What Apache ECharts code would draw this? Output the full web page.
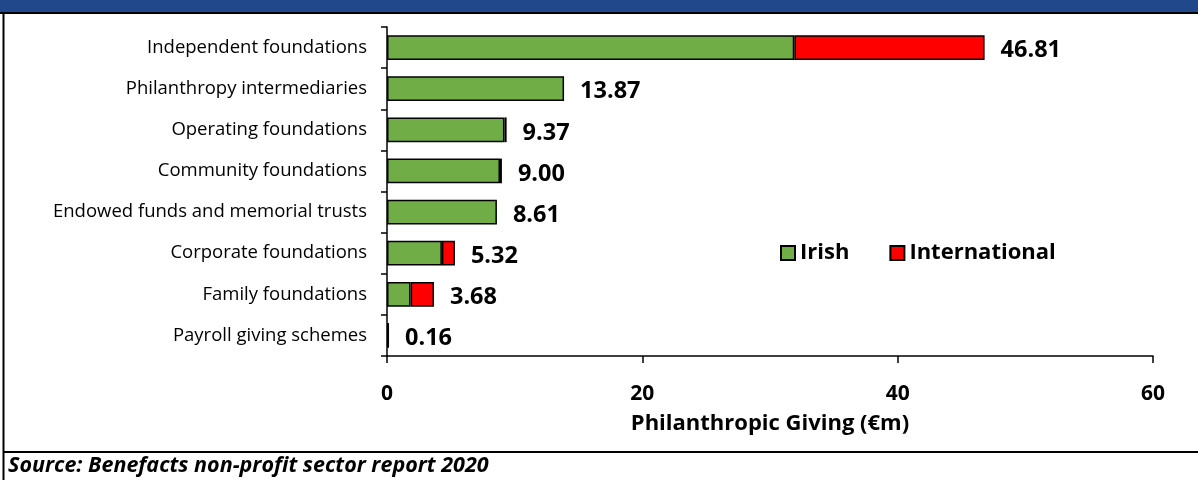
<!DOCTYPE html>
<html>
<head>
<meta charset="utf-8">
<script src="https://cdn.jsdelivr.net/npm/echarts@6/dist/echarts.min.js"></script>
<style>
  html, body { margin: 0; padding: 0; background: #fff; }
  #chart { width: 1198px; height: 480px; }
</style>
</head>
<body>
<div id="chart"></div>
<script>
// Philanthropic giving by foundation type, €m (Irish vs international recipients)
const categories = [
  'Independent foundations',
  'Philanthropy intermediaries',
  'Operating foundations',
  'Community foundations',
  'Endowed funds and memorial trusts',
  'Corporate foundations',
  'Family foundations',
  'Payroll giving schemes'
];
const irish         = [31.90, 13.87, 9.20, 8.85, 8.61, 4.30, 1.85, 0.16];
const international = [14.91, 0,     0.17, 0.15, 0,    1.02, 1.83, 0];
const xTicks = [0, 20, 40, 60];
const xTitle = 'Philanthropic Giving (€m)';
const sourceNote = 'Source: Benefacts non-profit sector report 2020';

const totals = irish.map((v, i) => +(v + international[i]).toFixed(2));

const FONT = 'Open Sans';
const chart = echarts.init(document.getElementById('chart'), null, { renderer: 'canvas' });

chart.setOption({
  animation: false,
  backgroundColor: '#ffffff',
  textStyle: { fontFamily: FONT },
  grid: { left: 387, right: 45, top: 27, bottom: 124, containLabel: false },
  legend: {
    data: ['Irish', 'International'],
    left: 775, top: 237,
    itemWidth: 14, itemHeight: 14, itemGap: 40,
    icon: 'rect',
    textStyle: { fontFamily: FONT, fontWeight: 'bold', fontSize: 22, color: '#000' }
  },
  xAxis: {
    type: 'value',
    min: xTicks[0], max: xTicks[xTicks.length - 1], interval: 20,
    axisLine: { show: true, lineStyle: { color: '#000', width: 1.5 } },
    axisTick: { show: true, inside: false, length: 7, lineStyle: { color: '#000', width: 1.5 } },
    splitLine: { show: false },
    axisLabel: { color: '#000', fontFamily: FONT, fontWeight: 'bold', fontSize: 21, margin: 28 },
    name: xTitle, nameLocation: 'middle', nameGap: 57,
    nameTextStyle: { color: '#000', fontFamily: FONT, fontWeight: 'bold', fontSize: 22 }
  },
  yAxis: {
    type: 'category', data: categories, inverse: true,
    axisLine: { show: true, lineStyle: { color: '#000', width: 1.5 } },
    axisTick: { show: true, length: 6, lineStyle: { color: '#000', width: 1.5 } },
    axisLabel: { color: '#000', fontFamily: FONT, fontSize: 18.5, margin: 20, padding: [3, 0, 0, 0] }
  },
  series: [
    {
      name: 'Irish', type: 'bar', stack: 'giving', barCategoryGap: '40%',
      itemStyle: { color: '#70AD47', borderColor: '#000', borderWidth: 1.5 },
      data: irish
    },
    {
      name: 'International', type: 'bar', stack: 'giving', barCategoryGap: '40%',
      itemStyle: { color: '#FF0000', borderColor: '#000', borderWidth: 1.5 },
      data: international.map(v => v === 0 ? { value: 0, itemStyle: { borderWidth: 0 } } : v),
      label: {
        show: true, position: 'right', distance: 16, offset: [0, 3],
        color: '#000', fontFamily: FONT, fontWeight: 'bold', fontSize: 23.5,
        formatter: p => totals[p.dataIndex].toFixed(2)
      }
    }
  ],
  graphic: [
    { type: 'rect', shape: { x: 0, y: 0, width: 1198, height: 12 }, style: { fill: '#22488C' }, silent: true },
    { type: 'line', shape: { x1: 0, y1: 13, x2: 1198, y2: 13 }, style: { stroke: '#000', lineWidth: 2 }, silent: true },
    { type: 'line', shape: { x1: 3.5, y1: 13, x2: 3.5, y2: 480 }, style: { stroke: '#000', lineWidth: 2 }, silent: true },
    { type: 'line', shape: { x1: 3, y1: 452, x2: 1198, y2: 452 }, style: { stroke: '#000', lineWidth: 2 }, silent: true },
    { type: 'text', left: 8, top: 455,
      style: { text: sourceNote, fill: '#000', font: 'italic bold 21.5px "' + FONT + '"' }, silent: true }
  ]
});
</script>
</body>
</html>
